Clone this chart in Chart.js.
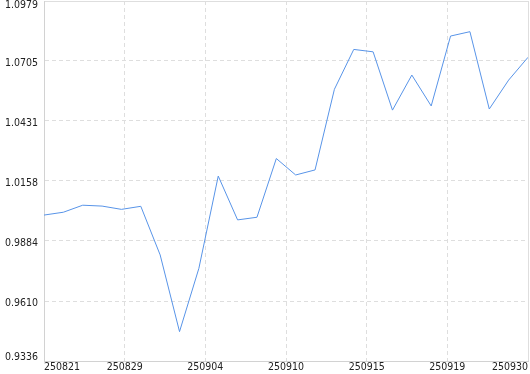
<!DOCTYPE html>
<html>
<head>
<meta charset="utf-8">
<script src="https://cdn.jsdelivr.net/npm/chart.js@4/dist/chart.umd.min.js"></script>
<style>
  html, body { margin: 0; padding: 0; background: #fff; }
  #wrap { width: 530px; height: 374px; }
</style>
</head>
<body>
<div id="wrap"><canvas id="c" width="530" height="374"></canvas></div>
<script>
const xTickLabels = ['250821', '250829', '250904', '250910', '250915', '250919', '250930'];
const yTickLabels = ['0.9336', '0.9610', '0.9884', '1.0158', '1.0431', '1.0705', '1.0979'];
const yMin = 0.9336;
const yMax = 1.0979;
const values = [1.0002, 1.0015, 1.0047, 1.0043, 1.0028, 1.0042, 0.9820, 0.9470, 0.9759, 1.0180,
                0.9980, 0.9992, 1.0260, 1.0185, 1.0208, 1.0576, 1.0758, 1.0747, 1.0481, 1.0641,
                1.0500, 1.0819, 1.0839, 1.0486, 1.0618, 1.0722];

const lastIdx = values.length - 1;
const points = values.map((v, i) => ({ x: i, y: v }));

const FONT = { family: '"DejaVu Sans Condensed", "Liberation Sans", Arial, sans-serif', size: 10.5 };
const GRID = '#dedede';
const EDGE = '#d2d2d2';

function edgeDash(ctx, n) {
  return (ctx.index === 0 || ctx.index === n - 1) ? [] : [4, 3];
}

const labelFix = {
  id: 'labelFix',
  beforeDraw(chart) {
    const ys = chart.scales.y;
    const items = ys.getLabelItems();
    const n = items.length;
    items.forEach((it, i) => {
      const t = it.options.translation;
      if (i === n - 1) { t[1] = ys.top + 4; }
      else if (i === 0) { t[1] = ys.bottom - 4; }
      else { t[1] = t[1] + 2; }
    });
  }
};

new Chart(document.getElementById('c'), {
  type: 'line',
  data: {
    datasets: [{
      data: points,
      borderColor: 'rgb(88,148,232)',
      borderWidth: 1,
      pointRadius: 0,
      tension: 0,
      fill: false
    }]
  },
  options: {
    responsive: false,
    animation: false,
    devicePixelRatio: 1,
    layout: { padding: { left: 0, right: 2, top: 1, bottom: 0 } },
    plugins: { legend: { display: false }, tooltip: { enabled: false } },
    scales: {
      x: {
        type: 'linear',
        min: 0,
        max: lastIdx,
        afterBuildTicks(scale) {
          scale.ticks = xTickLabels.map((_, i) => ({ value: i * lastIdx / (xTickLabels.length - 1) }));
        },
        afterFit(scale) {
          scale.height = 13;
          scale.paddingLeft = 0; scale.paddingRight = 0;
        },
        ticks: {
          autoSkip: false,
          maxRotation: 0,
          align: 'inner',
          padding: 0,
          color: '#222',
          font: FONT,
          callback: (v, i) => xTickLabels[i]
        },
        grid: { color: GRID, drawTicks: false, lineWidth: 1 },
        border: {
          display: true, color: EDGE,
          dash: (ctx) => edgeDash(ctx, xTickLabels.length)
        }
      },
      y: {
        type: 'linear',
        min: yMin,
        max: yMax,
        afterBuildTicks(scale) {
          const n = yTickLabels.length;
          scale.ticks = yTickLabels.map((_, i) => ({ value: yMin + i * (yMax - yMin) / (n - 1) }));
        },
        afterFit(scale) {
          scale.width = 44;
          scale.paddingTop = 0; scale.paddingBottom = 0;
        },
        ticks: {
          padding: 6,
          color: '#222',
          font: FONT,
          callback: (v, i) => yTickLabels[i]
        },
        grid: { color: GRID, drawTicks: false, lineWidth: 1 },
        border: {
          display: true, color: EDGE,
          dash: (ctx) => edgeDash(ctx, yTickLabels.length)
        }
      }
    }
  },
  plugins: [labelFix]
});
</script>
</body>
</html>
